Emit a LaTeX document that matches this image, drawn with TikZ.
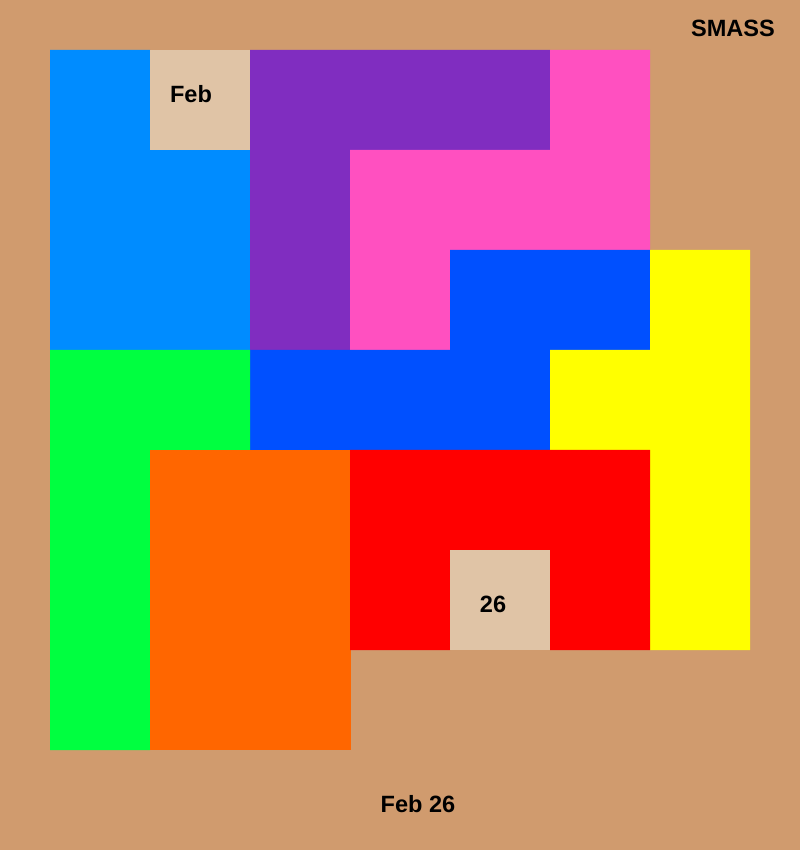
\documentclass[tikz,border=0pt]{standalone}
\usepackage{fontspec}
\setmainfont{Liberation Sans}
\definecolor{board}{RGB}{208,155,110}
\definecolor{datecell}{RGB}{224,196,166}
\definecolor{skyblue}{RGB}{0,140,255}
\definecolor{grape}{RGB}{128,45,192}
\definecolor{hotpink}{RGB}{255,80,192}
\definecolor{royal}{RGB}{0,80,255}
\definecolor{lemon}{RGB}{255,255,0}
\definecolor{lime}{RGB}{0,255,64}
\definecolor{tangerine}{RGB}{255,102,0}
\definecolor{cherry}{RGB}{255,0,0}
\tikzset{
  label/.style={font=\fontsize{6.7}{8}\selectfont\bfseries, inner sep=0pt, text=black}
}
\begin{document}
\begin{tikzpicture}[x=1cm, y=-1cm]
  % board, 8 x 8.5 units (one unit = one cell)
  \fill[board] (0,0) rectangle (8,8.5);
  \useasboundingbox (0,0) rectangle (8,8.5);

  % top rows
  \fill[skyblue] (0.5,0.5) -- (1.5,0.5) -- (1.5,1.5) -- (2.5,1.5) -- (2.5,3.5) -- (0.5,3.5) -- cycle;
  \fill[datecell] (1.5,0.5) rectangle (2.5,1.5);
  \fill[grape] (2.5,0.5) -- (5.5,0.5) -- (5.5,1.5) -- (3.5,1.5) -- (3.5,3.5) -- (2.5,3.5) -- cycle;
  \fill[hotpink] (5.5,0.5) -- (6.5,0.5) -- (6.5,2.5) -- (4.5,2.5) -- (4.5,3.5) -- (3.5,3.5) -- (3.5,1.5) -- (5.5,1.5) -- cycle;

  % middle rows
  \fill[royal] (4.5,2.5) -- (6.5,2.5) -- (6.5,3.5) -- (5.5,3.5) -- (5.5,4.5) -- (2.5,4.5) -- (2.5,3.5) -- (4.5,3.5) -- cycle;
  \fill[lemon] (6.5,2.5) -- (7.5,2.5) -- (7.5,6.5) -- (6.5,6.5) -- (6.5,4.5) -- (5.5,4.5) -- (5.5,3.5) -- (6.5,3.5) -- cycle;
  \fill[lime] (0.5,3.5) -- (2.5,3.5) -- (2.5,4.5) -- (1.5,4.5) -- (1.5,7.5) -- (0.5,7.5) -- cycle;

  % bottom rows
  \fill[tangerine] (1.5,4.5) rectangle (3.51,7.5);
  \fill[cherry] (3.5,4.5) -- (6.5,4.5) -- (6.5,6.5) -- (5.5,6.5) -- (5.5,5.5) -- (4.5,5.5) -- (4.5,6.5) -- (3.5,6.5) -- cycle;
  \fill[datecell] (4.5,5.5) rectangle (5.5,6.5);

  % labels
  \node[label] (title) at (7.33,0.28) {SMASS};
  \node[label] (month) at (1.91,0.94) {Feb};
  \node[label] (day) at (4.93,6.04) {26};
  \node[label] (date) at (4.18,8.04) {Feb 26};
\end{tikzpicture}
\end{document}
